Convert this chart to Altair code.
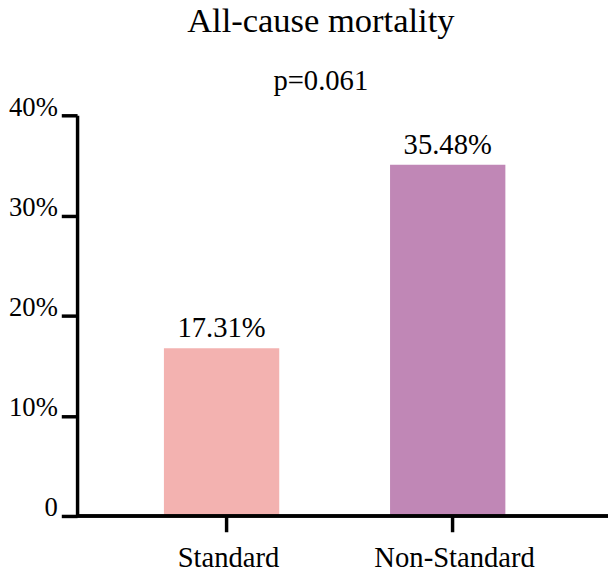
import altair as alt
import pandas as pd

groups = ["Standard", "Non-Standard"]
bar_heights = [0.1675, 0.3507]          # bar heights
labels = ["17.31%", "35.48%"]           # printed value labels
colors = ["#F3B2B0", "#C087B6"]
y_ticks = [0, 0.1, 0.2, 0.3, 0.4]
title_text = "All-cause mortality"
p_text = "p=0.061"

df = pd.DataFrame({"group": groups, "rate": bar_heights, "label": labels})

FONT = "Liberation Serif"
W, H = 538, 406
LW = 3.5

xscale = alt.Scale(domain=groups, range=[88, 434], paddingInner=0.49, paddingOuter=0)
yscale = alt.Scale(domain=[0, 0.4], nice=False, zero=True)

x_enc = alt.X(
    "group:N", scale=xscale, sort=groups,
    axis=alt.Axis(
        title=None, domain=False, ticks=True, tickSize=16, tickWidth=LW,
        tickColor="black", labelAngle=0, labelFont=FONT, labelFontSize=29,
        labelColor="black", labelPadding=12, bandPosition=0.54, labelOffset=7,
        grid=False,
    ),
)
y_enc = alt.Y(
    "rate:Q", scale=yscale,
    axis=alt.Axis(
        title=None, values=y_ticks,
        labelExpr="datum.value == 0 ? '0' : format(datum.value, '.0%')",
        tickSize=16, tickWidth=LW, tickColor="black", domainWidth=LW,
        domainColor="black", labelFont=FONT, labelFontSize=27,
        labelColor="black", labelBaseline="alphabetic", labelPadding=4,
        grid=False, labelFlush=False, labelOverlap=False,
    ),
)

bars = alt.Chart(df).mark_bar().encode(
    x=x_enc, y=y_enc,
    color=alt.Color("group:N", scale=alt.Scale(domain=groups, range=colors), legend=None),
)

text = alt.Chart(df).mark_text(
    dy=-11, baseline="alphabetic", fontSize=29, font=FONT, color="black"
).encode(x=alt.X("group:N", scale=xscale, sort=groups), y=alt.Y("rate:Q", scale=yscale), text="label:N")

xline = alt.Chart(df).mark_rule(color="black", strokeWidth=LW).encode(
    x=alt.value(0), x2=alt.value(W), y=alt.datum(0)
)

chart = alt.layer(bars, text, xline).properties(
    width=W, height=H,
    background="white",
    title=alt.TitleParams(
        text=title_text, subtitle=p_text, font=FONT, fontSize=35, fontWeight="normal",
        color="black", subtitleFont=FONT, subtitleFontSize=29, subtitleColor="black",
        anchor="middle", frame="group", dx=-22, offset=-2, subtitlePadding=28,
    ),
    autosize=alt.AutoSizeParams(type="none"),
    padding={"left": 70, "top": 105, "right": 0, "bottom": 49},
).configure_view(strokeWidth=0, stroke="transparent")

chart.save("out.html", embed_options={"renderer": "svg", "actions": False})
